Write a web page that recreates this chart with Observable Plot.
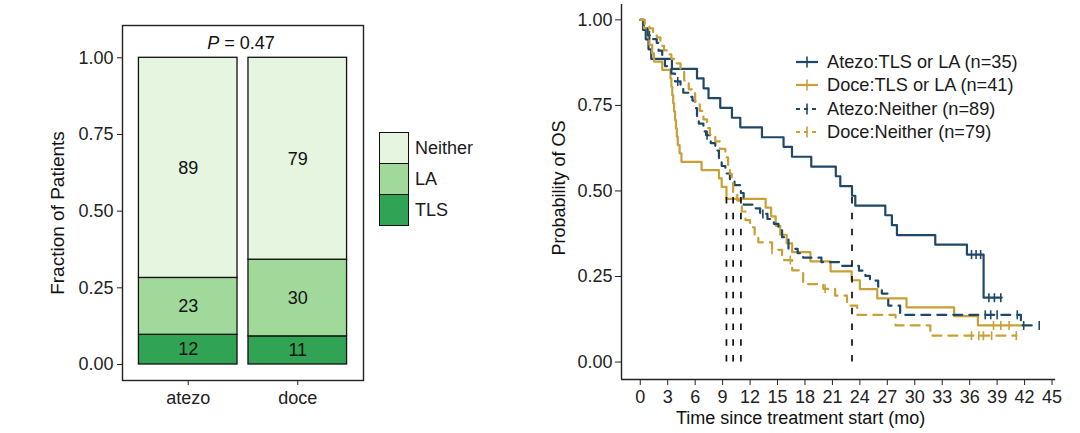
<!DOCTYPE html>
<html><head><meta charset="utf-8">
<script src="https://cdn.jsdelivr.net/npm/d3@7"></script>
<script src="https://cdn.jsdelivr.net/npm/@observablehq/plot@0.6"></script>
<style>
body{margin:0;background:#fff;font-family:"Liberation Sans",Arial,Helvetica,sans-serif;}
#wrap{position:relative;width:1080px;height:433px;overflow:hidden;background:#fff;}
#left,#right{position:absolute;top:0;}
#left{left:0;} #right{left:540px;}
.lg{position:absolute;font-size:18px;color:#1a1a1a;white-space:nowrap;}
.box{position:absolute;box-sizing:border-box;border:1.3px solid #111;}
</style></head><body>
<div id="wrap"><div id="left"></div><div id="right"></div></div>
<script>
const FONT = '"Liberation Sans", Arial, Helvetica, sans-serif';

// ---------- Panel a: stacked fractions ----------
const arms = ["atezo", "doce"];
const groups = ["TLS", "LA", "Neither"];
const tlsCounts = [12, 11];
const laCounts = [23, 30];
const neitherCounts = [89, 79];
const groupColors = ["#31A354", "#A1D99B", "#E5F5E0"];
const fractionTicks = [0, 0.25, 0.5, 0.75, 1];
const pLabel = "P = 0.47";
const legendOrder = ["Neither", "LA", "TLS"];

// ---------- Panel b: Kaplan-Meier OS ----------
const seriesNames = ["Atezo:TLS or LA (n=35)", "Doce:TLS or LA (n=41)", "Atezo:Neither (n=89)", "Doce:Neither (n=79)"];
const seriesArm = ["Atezo", "Doce", "Atezo", "Doce"];
const seriesDashed = [false, false, true, true];
const armColors = ["#1F4868", "#C9A035"];
const timeTicks = [0, 3, 6, 9, 12, 15, 18, 21, 24, 27, 30, 33, 36, 39, 42, 45];
const survTicks = [0, 0.25, 0.5, 0.75, 1];

const atezoTlsTime = [0, 0.3, 0.6, 0.9, 1.2, 3.46, 6.2, 6.92, 7.46, 8.74, 10.02, 10.93, 13.3, 15.66, 16.58, 18.69, 21.37, 21.86, 23.14, 23.5, 26.78, 27.5, 28.05, 32.24, 35.7, 37.52, 39.5];
const atezoTlsSurv = [1, 0.971, 0.943, 0.914, 0.886, 0.857, 0.829, 0.800, 0.771, 0.743, 0.714, 0.686, 0.657, 0.629, 0.600, 0.571, 0.543, 0.514, 0.486, 0.457, 0.429, 0.400, 0.371, 0.343, 0.314, 0.188, 0.188];
const atezoTlsCensor = [36.2, 36.7, 37.2, 38.1, 38.7, 39.4];

const doceTlsTime = [0, 0.4, 0.8, 1.0, 1.3, 1.5, 2.4, 3.3, 3.4, 3.5, 3.6, 3.7, 3.8, 3.9, 4.0, 4.1, 4.3, 4.5, 6.7, 8.6, 8.9, 9.42, 13.7, 14.3, 14.8, 15.3, 16.0, 16.6, 18.6, 20.8, 23.1, 24.0, 25.9, 29.1, 34.3, 36.9, 41.7];
const doceTlsSurv = [1, 0.976, 0.951, 0.927, 0.902, 0.878, 0.854, 0.829, 0.805, 0.780, 0.756, 0.732, 0.707, 0.683, 0.659, 0.634, 0.610, 0.585, 0.561, 0.537, 0.512, 0.477, 0.451, 0.426, 0.398, 0.372, 0.347, 0.321, 0.294, 0.265, 0.239, 0.213, 0.186, 0.160, 0.134, 0.107, 0.107];
const doceTlsCensor = [38.6, 39.4, 40.3];

const atezoNeitherTime = [0, 0.4, 0.8, 1.2, 1.8, 2.0, 2.4, 2.7, 3.4, 3.8, 4.4, 4.7, 5.3, 5.7, 6.0, 6.2, 6.4, 6.9, 7.2, 7.7, 8.2, 8.6, 8.9, 9.3, 9.8, 10.3, 11.0, 11.3, 12.4, 13.1, 13.9, 14.6, 15.1, 15.5, 16.2, 17.2, 17.8, 19.8, 22.0, 23.9, 24.6, 25.1, 26.0, 26.4, 27.1, 28.4, 41.6, 42.8];
const atezoNeitherSurv = [1, 0.978, 0.955, 0.944, 0.933, 0.910, 0.888, 0.865, 0.843, 0.820, 0.798, 0.787, 0.775, 0.764, 0.742, 0.719, 0.697, 0.674, 0.663, 0.640, 0.618, 0.596, 0.573, 0.551, 0.528, 0.517, 0.494, 0.460, 0.449, 0.433, 0.418, 0.404, 0.385, 0.365, 0.331, 0.318, 0.305, 0.292, 0.281, 0.267, 0.252, 0.238, 0.220, 0.200, 0.165, 0.138, 0.107, 0.107];
const atezoNeitherCensor = [1.0, 4.1, 7.3, 13.4, 37.7, 38.3, 39.0, 41.2, 41.9, 43.6];

const doceNeitherTime = [0, 0.5, 1.0, 1.4, 1.8, 2.2, 2.6, 3.0, 3.4, 3.9, 4.4, 4.8, 5.3, 5.7, 6.0, 6.5, 6.9, 7.3, 7.6, 8.2, 8.7, 9.3, 9.6, 9.8, 10.0, 10.15, 10.6, 11.1, 11.5, 12.0, 12.5, 12.9, 14.4, 15.5, 16.6, 17.8, 20.0, 21.3, 22.6, 23.7, 27.9, 31.7, 41.1];
const doceNeitherSurv = [1, 0.987, 0.975, 0.962, 0.949, 0.924, 0.911, 0.899, 0.886, 0.873, 0.848, 0.823, 0.797, 0.785, 0.759, 0.734, 0.709, 0.684, 0.665, 0.645, 0.623, 0.598, 0.573, 0.550, 0.525, 0.497, 0.472, 0.440, 0.415, 0.394, 0.370, 0.350, 0.328, 0.298, 0.268, 0.228, 0.214, 0.194, 0.165, 0.138, 0.107, 0.077, 0.077];
const doceNeitherCensor = [14.4, 16.4, 20.2, 36.2, 37.0, 37.5, 38.4, 41.1];

// ---------- build panel a ----------
const barRows = [];
arms.forEach((arm, i) => {
  const counts = [tlsCounts[i], laCounts[i], neitherCounts[i]];
  const total = d3.sum(counts);
  groups.forEach((g, j) => barRows.push({arm, group: g, count: counts[j], frac: counts[j] / total}));
});

const leftPlot = Plot.plot({
  width: 540, height: 433,
  marginLeft: 122, marginRight: 177, marginTop: 25, marginBottom: 53,
  style: {fontFamily: FONT, fontSize: "18px", color: "#222", background: "transparent", overflow: "visible"},
  x: {type: "band", domain: arms, paddingInner: 0.1, paddingOuter: 0.15, round: false, label: null},
  y: {domain: [-0.0522, 1.1053], label: null},
  color: {domain: groups, range: groupColors},
  marks: [
    Plot.barY(barRows, {x: "arm", y: "frac", fill: "group", stroke: "#111", strokeWidth: 1.3}),
    Plot.text(barRows, Plot.stackY({x: "arm", y: "frac", z: "group", text: "count", fill: "#111", fontSize: 18})),
    Plot.frame({stroke: "#222", strokeWidth: 1.4}),
    Plot.axisX({tickSize: 5, tickPadding: 6, label: null}),
    Plot.axisY({ticks: fractionTicks, tickFormat: d3.format(".2f"), tickSize: 5, tickPadding: 4, label: null}),
    Plot.text([pLabel], {frameAnchor: "top", lineAnchor: "middle", textAnchor: "middle", dy: 18, dx: -2, fontSize: 18, fill: "#111"}),
    Plot.text(["Fraction of Patients"], {frameAnchor: "left", lineAnchor: "middle", textAnchor: "middle", rotate: -90, dx: -65, dy: 10, fontSize: 19, fill: "#111"})
  ]
});
// italic P
leftPlot.querySelectorAll("text").forEach(t => {
  if (t.textContent === pLabel) {
    t.textContent = "";
    const ns = "http://www.w3.org/2000/svg";
    const a = document.createElementNS(ns, "tspan"); a.setAttribute("font-style", "italic"); a.textContent = pLabel.slice(0, 1);
    const b = document.createElementNS(ns, "tspan"); b.textContent = pLabel.slice(1);
    t.appendChild(a); t.appendChild(b);
  }
});
document.getElementById("left").appendChild(leftPlot);

// legend for panel a
const wrap = document.getElementById("wrap");
legendOrder.forEach((g, i) => {
  const box = document.createElement("div");
  box.className = "box";
  box.style.cssText = `left:379px;top:${132 + i * 31}px;width:30px;height:32px;background:${groupColors[groups.indexOf(g)]};`;
  wrap.appendChild(box);
  const lab = document.createElement("div");
  lab.className = "lg";
  lab.style.cssText = `left:415px;top:${132 + i * 31}px;height:32px;line-height:32px;`;
  lab.textContent = g;
  wrap.appendChild(lab);
});

// ---------- build panel b ----------
const allTimes = [atezoTlsTime, doceTlsTime, atezoNeitherTime, doceNeitherTime];
const allSurv = [atezoTlsSurv, doceTlsSurv, atezoNeitherSurv, doceNeitherSurv];
const allCensor = [atezoTlsCensor, doceTlsCensor, atezoNeitherCensor, doceNeitherCensor];

function survAt(times, surv, t) { let s = surv[0]; times.forEach((x, i) => { if (x <= t) s = surv[i]; }); return s; }
function medianOf(times, surv) { for (let i = 0; i < times.length; i++) if (surv[i] <= 0.5) return times[i]; return null; }

const curveRows = [], censorRows = [], medians = [];
seriesNames.forEach((name, k) => {
  allTimes[k].forEach((t, i) => curveRows.push({key: name, arm: seriesArm[k], dashed: seriesDashed[k], t, s: allSurv[k][i]}));
  allCensor[k].forEach(t => censorRows.push({key: name, arm: seriesArm[k], t, s: survAt(allTimes[k], allSurv[k], t)}));
  medians.push(medianOf(allTimes[k], allSurv[k]));
});

const vbar = {draw(ctx, size) { const r = Math.sqrt(size / Math.PI); ctx.moveTo(0, -r); ctx.lineTo(0, r); }};
const xDom = [-2.05, 45.4], yDom = [-0.051, 1.0449];

const rightPlot = Plot.plot({
  width: 540, height: 433,
  marginLeft: 81, marginRight: 24.8, marginTop: 4, marginBottom: 54,
  style: {fontFamily: FONT, fontSize: "18px", color: "#222", background: "transparent", overflow: "visible"},
  x: {domain: xDom, label: null},
  y: {domain: yDom, label: null},
  color: {domain: ["Atezo", "Doce"], range: armColors},
  marks: [
    Plot.line(curveRows.filter(d => !d.dashed), {x: "t", y: "s", z: "key", stroke: "arm", curve: "step-after", strokeWidth: 2.2}),
    Plot.line(curveRows.filter(d => d.dashed), {x: "t", y: "s", z: "key", stroke: "arm", curve: "step-after", strokeWidth: 2.2, strokeDasharray: "9,7"}),
    Plot.dot(censorRows, {x: "t", y: "s", stroke: "arm", symbol: vbar, r: 4.5, strokeWidth: 1.6}),
    Plot.ruleX(medians, {y1: 0, y2: 0.5, stroke: "#111", strokeWidth: 1.7, strokeDasharray: "6.5,9.3"}),
    Plot.ruleX([xDom[0]], {stroke: "#222", strokeWidth: 1.4}),
    Plot.ruleY([yDom[0]], {stroke: "#222", strokeWidth: 1.4}),
    Plot.axisX({ticks: timeTicks, tickSize: 6, tickPadding: 5, label: null}),
    Plot.axisY({ticks: survTicks, tickFormat: d3.format(".2f"), tickSize: 6, tickPadding: 3, label: null}),
    Plot.text(["Time since treatment start (mo)"], {frameAnchor: "bottom", lineAnchor: "middle", textAnchor: "middle", dy: 39, dx: -38, fontSize: 18, fill: "#111"}),
    Plot.text(["Probability of OS"], {frameAnchor: "left", lineAnchor: "middle", textAnchor: "middle", rotate: -90, dx: -62, dy: -4, fontSize: 18, fill: "#111"})
  ]
});
document.getElementById("right").appendChild(rightPlot);

// legend for panel b
const rowY = [61.7, 85, 108.5, 131.7];
seriesNames.forEach((name, k) => {
  const col = armColors[seriesArm[k] === "Atezo" ? 0 : 1];
  const key = document.createElementNS("http://www.w3.org/2000/svg", "svg");
  key.setAttribute("width", 24); key.setAttribute("height", 14);
  key.style.cssText = `position:absolute;left:795px;top:${rowY[k] - 7}px;overflow:visible;`;
  key.innerHTML = `<line x1="1" y1="7" x2="23" y2="7" stroke="${col}" stroke-width="2.2" ${seriesDashed[k] ? 'stroke-dasharray="4,4"' : ''}/>` +
    `<line x1="12" y1="1.5" x2="12" y2="12.5" stroke="${col}" stroke-width="1.6"/>`;
  wrap.appendChild(key);
  const lab = document.createElement("div");
  lab.className = "lg";
  lab.style.cssText = `left:827px;top:${rowY[k] - 12}px;height:24px;line-height:24px;font-size:18.2px;`;
  lab.textContent = name;
  wrap.appendChild(lab);
});
</script>
</body></html>
